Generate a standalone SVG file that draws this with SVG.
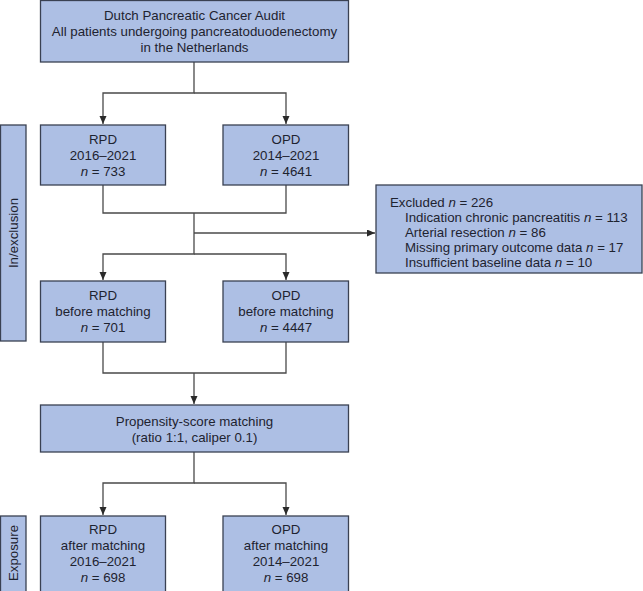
<svg xmlns="http://www.w3.org/2000/svg" width="643" height="591" viewBox="0 0 643 591">
<defs>
<style>
.box{fill:#adbfe4;stroke:#3a4152;stroke-width:1.3}
.t{font-family:"Liberation Sans",Arial,sans-serif;font-size:13.3px;fill:#1e2330}
.c{text-anchor:middle}
.con{fill:none;stroke:#4a4a4a;stroke-width:1.3}
</style>
<marker id="ah" markerUnits="userSpaceOnUse" markerWidth="9" markerHeight="8" refX="8" refY="3.5" orient="auto">
<path d="M0,0 L8,3.5 L0,7 z" fill="#2a2a2a"/>
</marker>
</defs>
<rect width="643" height="591" fill="#ffffff"/>
<g id="connectors">
<path class="con" d="M194,62 V93 H103 V124" marker-end="url(#ah)"/>
<path class="con" d="M194,93 H286 V124" marker-end="url(#ah)"/>
<path class="con" d="M103,185 V213 H286 V185"/>
<path class="con" d="M194,213 V254 H103 V280" marker-end="url(#ah)"/>
<path class="con" d="M194,254 H286 V280" marker-end="url(#ah)"/>
<path class="con" d="M194,233 H375" marker-end="url(#ah)"/>
<path class="con" d="M103,342 V373 H286 V342"/>
<path class="con" d="M194,373 V404" marker-end="url(#ah)"/>
<path class="con" d="M194,452 V483 H103 V515" marker-end="url(#ah)"/>
<path class="con" d="M194,483 H286 V515" marker-end="url(#ah)"/>
</g>
<g id="side-inexclusion">
<rect class="box" x="0.5" y="125" width="25.5" height="216"/>
<text class="t c" transform="translate(18,233) rotate(-90)">In/exclusion</text>
</g>
<g id="side-exposure">
<rect class="box" x="0.5" y="516" width="25.5" height="80"/>
<text class="t c" transform="translate(18,553) rotate(-90)">Exposure</text>
</g>
<g id="audit">
<rect class="box" x="40.5" y="0.5" width="308" height="61.5"/>
<text class="t c" x="194.5" y="20">Dutch Pancreatic Cancer Audit</text>
<text class="t c" x="194.5" y="35.8">All patients undergoing pancreatoduodenectomy</text>
<text class="t c" x="194.5" y="51.6">in the Netherlands</text>
</g>
<g id="rpd-all">
<rect class="box" x="40.5" y="125" width="125" height="60"/>
<text class="t c" x="103" y="144">RPD</text>
<text class="t c" x="103" y="160">2016–2021</text>
<text class="t c" x="103" y="176"><tspan font-style="italic">n</tspan> = 733</text>
</g>
<g id="opd-all">
<rect class="box" x="223" y="125" width="125.5" height="60"/>
<text class="t c" x="286" y="144">OPD</text>
<text class="t c" x="286" y="160">2014–2021</text>
<text class="t c" x="286" y="176"><tspan font-style="italic">n</tspan> = 4641</text>
</g>
<g id="excluded">
<rect class="box" x="376" y="185" width="266" height="88"/>
<text class="t" x="390" y="207">Excluded <tspan font-style="italic">n</tspan> = 226</text>
<text class="t" x="405" y="222">Indication chronic pancreatitis <tspan font-style="italic">n</tspan> = 113</text>
<text class="t" x="405" y="237">Arterial resection <tspan font-style="italic">n</tspan> = 86</text>
<text class="t" x="405" y="252">Missing primary outcome data <tspan font-style="italic">n</tspan> = 17</text>
<text class="t" x="405" y="267">Insufficient baseline data <tspan font-style="italic">n</tspan> = 10</text>
</g>
<g id="rpd-before">
<rect class="box" x="40.5" y="281" width="125" height="61"/>
<text class="t c" x="103" y="300">RPD</text>
<text class="t c" x="103" y="316">before matching</text>
<text class="t c" x="103" y="331.5"><tspan font-style="italic">n</tspan> = 701</text>
</g>
<g id="opd-before">
<rect class="box" x="223" y="281" width="125.5" height="61"/>
<text class="t c" x="286" y="300">OPD</text>
<text class="t c" x="286" y="316">before matching</text>
<text class="t c" x="286" y="331.5"><tspan font-style="italic">n</tspan> = 4447</text>
</g>
<g id="psm">
<rect class="box" x="40.5" y="405" width="308" height="47"/>
<text class="t c" x="194.5" y="425.5">Propensity-score matching</text>
<text class="t c" x="194.5" y="441.5">(ratio 1:1, caliper 0.1)</text>
</g>
<g id="rpd-after">
<rect class="box" x="40.5" y="516" width="125" height="80"/>
<text class="t c" x="103" y="534">RPD</text>
<text class="t c" x="103" y="550">after matching</text>
<text class="t c" x="103" y="566">2016–2021</text>
<text class="t c" x="103" y="581.5"><tspan font-style="italic">n</tspan> = 698</text>
</g>
<g id="opd-after">
<rect class="box" x="223" y="516" width="125.5" height="80"/>
<text class="t c" x="286" y="534">OPD</text>
<text class="t c" x="286" y="550">after matching</text>
<text class="t c" x="286" y="566">2014–2021</text>
<text class="t c" x="286" y="581.5"><tspan font-style="italic">n</tspan> = 698</text>
</g>
</svg>
